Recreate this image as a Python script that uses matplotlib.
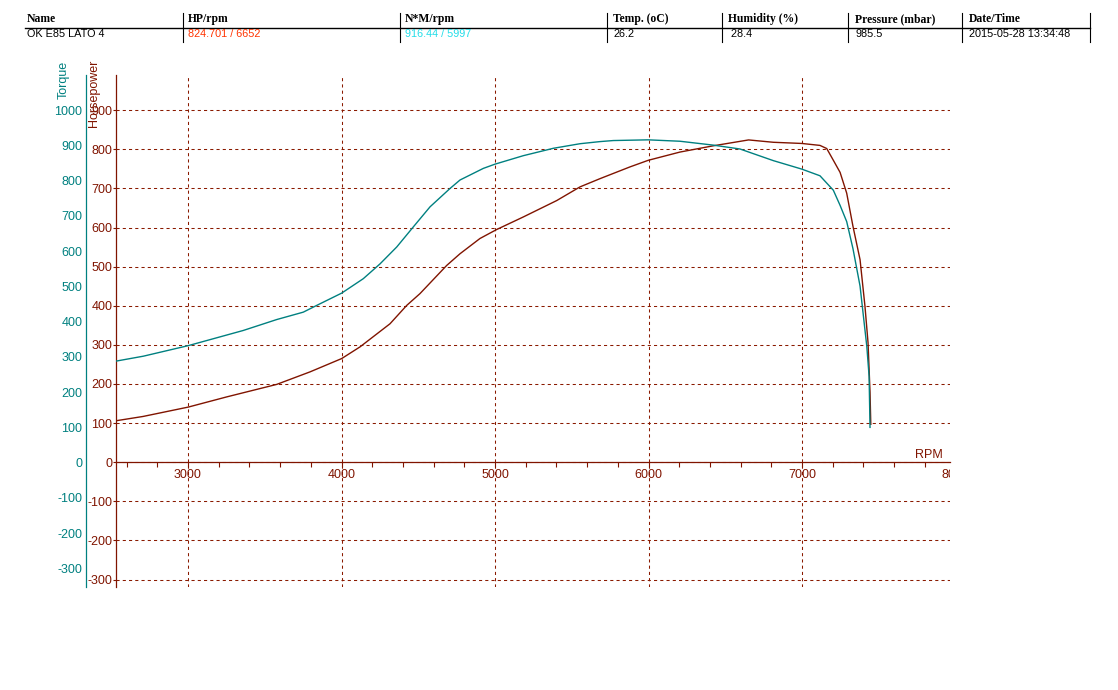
"""Dyno run chart: horsepower and torque against RPM."""

import matplotlib

matplotlib.use("Agg")

import matplotlib.pyplot as plt
from matplotlib.lines import Line2D
from matplotlib.ticker import MultipleLocator

W, H = 1118, 690

HP_COLOR = "#801400"
TQ_COLOR = "#008080"
GRID_COLOR = "#8a1a00"

# header table
header_labels = ["Name", "HP/rpm", "N*M/rpm", "Temp. (oC)", "Humidity (%)", "Pressure (mbar)", "Date/Time"]
header_values = ["OK E85 LATO 4", "824.701 / 6652", "916.44 / 5997", "26.2", " 28.4", "985.5", "2015-05-28 13:34:48"]
value_colors = ["black", "#ff3300", "#22dde8", "black", "black", "black", "black"]

# torque curve (Nm)
tq_rpm = [2531, 2709, 3002, 3360, 3578, 3751, 3838, 4001, 4142, 4251, 4360, 4468,
          4577, 4707, 4772, 4924, 5000, 5184, 5380, 5554, 5684, 5771, 5997, 6205,
          6422, 6596, 6813, 6998, 7117, 7204, 7248, 7291, 7332, 7378, 7397, 7422,
          7437, 7443]
tq_nm = [288, 302, 332, 375, 406, 427, 446, 481, 522, 564, 612, 669,
         726, 778, 802, 835, 847, 871, 892, 905, 911, 914, 916, 912,
         901, 890, 857, 833, 814, 773, 730, 684, 607, 501, 427, 330,
         245, 100]

# horsepower curve
hp_rpm = [2531, 2707, 3002, 3252, 3578, 3795, 4001, 4121, 4316, 4425, 4511, 4685,
          4772, 4902, 5011, 5184, 5402, 5554, 5684, 5879, 5999, 6205, 6422, 6652,
          6813, 6998, 7117, 7161, 7204, 7248, 7291, 7332, 7378, 7410, 7430, 7443,
          7448]
hp_val = [106, 117, 141, 167, 199, 231, 265, 295, 354, 401, 431, 503,
          533, 572, 595, 627, 669, 704, 725, 755, 772, 793, 809, 824,
          818, 815, 810, 802, 772, 741, 688, 603, 518, 399, 306, 179,
          97]


def fx(px):
    return px / W


def fy(py):
    return 1 - py / H


plt.rcParams["font.family"] = ["Liberation Sans", "DejaVu Sans"]
plt.rcParams["axes.unicode_minus"] = False

fig = plt.figure(figsize=(W / 100, H / 100), dpi=100)

# --- header table ---
col_x = [27, 188, 405, 613, 728, 855, 969]
sep_x = [183, 400, 607, 722, 848, 962, 1090]
for x, lab, val, col in zip(col_x, header_labels, header_values, value_colors):
    fig.text(fx(x), fy(19), lab, family="Liberation Serif", fontweight="bold",
             fontsize=8.4, va="center", ha="left")
    fig.text(fx(x), fy(34), val, fontsize=7.8, color=col, va="center", ha="left")
fig.add_artist(Line2D([fx(25), fx(1090)], [fy(27.5), fy(27.5)],
                      transform=fig.transFigure, color="black", lw=1.0))
for x in sep_x:
    fig.add_artist(Line2D([fx(x), fx(x)], [fy(13), fy(42)],
                          transform=fig.transFigure, color="black", lw=0.8))

# --- plot area ---
left, right, top, bottom = 116, 950, 75, 587
ax = fig.add_axes([fx(left), fy(bottom), (right - left) / W, (bottom - top) / H])
ax.set_facecolor("none")
ax.set_xlim(2531, 7964)
ax.set_ylim(-319, 990)

ax.spines["top"].set_visible(False)
ax.spines["right"].set_visible(False)
ax.spines["bottom"].set_position(("data", 0))
ax.spines["bottom"].set_color(HP_COLOR)
ax.spines["left"].set_color(HP_COLOR)
for s in ("bottom", "left"):
    ax.spines[s].set_linewidth(0.9)

ax.xaxis.set_major_locator(MultipleLocator(1000))
ax.xaxis.set_minor_locator(MultipleLocator(200))
ax.tick_params(axis="x", which="both", direction="out", length=3.6, width=0.8,
               color=HP_COLOR, labelcolor=HP_COLOR, labelsize=9, pad=1.5)
ax.tick_params(axis="y", direction="out", length=2, width=0.8,
               color=HP_COLOR, labelcolor=HP_COLOR, labelsize=9, pad=0.5)
ax.set_xticks([3000, 4000, 5000, 6000, 7000])
ax.set_yticks(range(-300, 1000, 100))
ax.grid(True, which="major", color=GRID_COLOR, linestyle=(0, (3, 3)), linewidth=0.75)
ax.set_axisbelow(True)

# clipped "8000" label at the right edge
ax.text(8000, -33, "8000", color=HP_COLOR, fontsize=9, ha="center", va="center",
        clip_on=True)
ax.text(7920, 18, "RPM", color=HP_COLOR, fontsize=9, ha="right", va="center")

ax.plot(hp_rpm, hp_val, color=HP_COLOR, lw=1.0, zorder=3)

# torque axis, offset to the left
ax2 = ax.twinx()
ax2.set_ylim(-353, 1100)
ax2.spines["right"].set_visible(False)
ax2.spines["top"].set_visible(False)
ax2.spines["bottom"].set_visible(False)
ax2.spines["left"].set_visible(True)
ax2.spines["left"].set_position(("outward", 21.6))
ax2.spines["left"].set_color(TQ_COLOR)
ax2.spines["left"].set_linewidth(0.9)
ax2.yaxis.set_ticks_position("left")
ax2.set_yticks(range(-300, 1100, 100))
ax2.tick_params(axis="y", length=0, labelcolor=TQ_COLOR, labelsize=9, pad=2.5)
ax2.plot(tq_rpm, tq_nm, color=TQ_COLOR, lw=1.0, zorder=3)

fig.text(fx(64), fy(80), "Torque", rotation=90, color=TQ_COLOR, fontsize=9,
         ha="center", va="center")
fig.text(fx(94), fy(93), "Horsepower", rotation=90, color=HP_COLOR, fontsize=9,
         ha="center", va="center")

fig.savefig("out.png", dpi=100)
plt.close(fig)
